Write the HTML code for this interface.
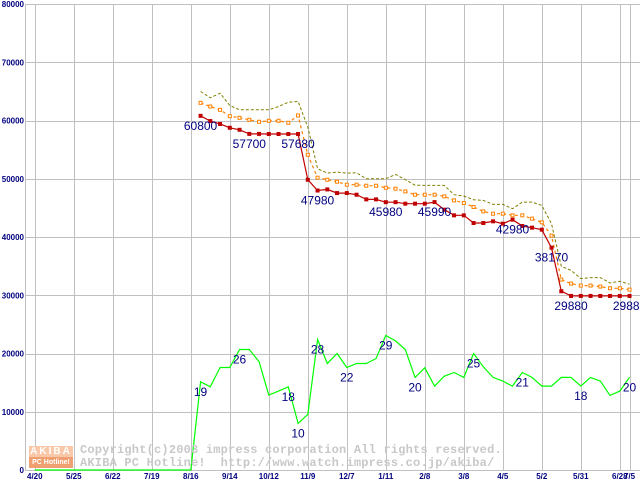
<!DOCTYPE html>
<html><head><meta charset="utf-8">
<style>
html,body{margin:0;padding:0;background:#fff;}
#wrap{position:relative;width:640px;height:480px;overflow:hidden;}
svg{position:absolute;left:0;top:0;}
.wm{position:absolute;font-family:"Liberation Mono",monospace;font-weight:bold;font-size:12px;color:#c8c8c8;white-space:pre;letter-spacing:0.2px;}
</style></head><body>
<div id="wrap">
<svg id="chart" width="640" height="480" xmlns="http://www.w3.org/2000/svg"></svg>
<div style="position:absolute;left:29px;top:446px;width:44px;height:22px;">
  <div style="height:11px;background:#f8c8a8;color:#fff;font:bold 10px 'Liberation Sans',sans-serif;text-align:center;line-height:11px;letter-spacing:2px;">AKIBA</div>
  <div style="height:11px;background:#f0a070;color:#fff;font:bold 7px 'Liberation Sans',sans-serif;text-align:center;line-height:11px;">PC Hotline!</div>
</div>
<div class="wm" style="left:80px;top:443px;">Copyright(c)2003 impress corporation All rights reserved.</div>
<div class="wm" style="left:80px;top:456px;">AKIBA PC Hotline!  http://www.watch.impress.co.jp/akiba/</div>
</div>
<script>
const xTickLabels=["4/20","5/25","6/22","7/19","8/16","9/14","10/12","11/9","12/7","1/11","2/8","3/8","4/5","5/2","5/31","6/28","7/5"];
const xTickWeeks=[0,4,8,12,16,20,24,28,32,36,40,44,48,52,56,60,61];
const yTicks=[0,10000,20000,30000,40000,50000,60000,70000,80000];
const startWeek=17;
const minPrice=[60800,59900,59400,58750,58400,57700,57700,57680,57680,57680,57680,49830,47980,48170,47540,47540,47260,46460,46460,45980,45980,45720,45720,45720,45990,44690,43720,43720,42400,42400,42690,42290,42980,41890,41600,41260,38170,30690,29880,29880,29880,29880,29880,29880,29880];
const avgPrice=[63030,62400,61830,60740,60460,60120,59780,59950,59950,59610,60860,54120,50180,49830,49490,48980,48980,48800,48800,48460,48290,47830,47260,47260,47260,46970,46290,45830,45150,44400,44000,44000,43720,43720,43150,42520,40230,32690,32000,31660,31660,31490,31200,31200,30970];
const maxPrice=[64970,63890,64690,62570,61830,61830,61830,61830,62400,63140,63260,58860,51720,50970,51150,50970,51030,50000,50000,50000,50740,49830,48900,48860,48860,48860,47260,47030,46400,46290,45600,45600,44860,46000,46000,45430,42290,34970,34290,32860,33030,33030,32110,32400,31890];
const shopLine=[0,0,0,0,0,0,0,0,0,0,0,0,0,0,0,0,0,15140,14290,17600,17600,20690,20690,18570,12860,13540,14290,8000,9540,22400,18290,20000,17600,18290,18290,19140,23090,22170,20690,15890,17540,14400,16110,16740,15890,20000,17710,15890,15260,14400,16740,15890,14400,14400,15890,15890,14400,15890,15260,12800,13540,15890];
const priceLabelIdx=[0,5,10,12,19,24,32,36,38,44];
const shopLabelIdx=[0,4,9,10,12,15,19,22,28,33,39,44];
const shopCounts=[19,26,18,10,28,22,29,20,25,21,18,20];

const NS="http://www.w3.org/2000/svg";
const svg=document.getElementById('chart');
const X=w=>34.8+w*9.75;
const Y=v=>470-v*(466/80000);
function el(tag,attrs,parent){const e=document.createElementNS(NS,tag);for(const k in attrs)e.setAttribute(k,attrs[k]);(parent||svg).appendChild(e);return e;}

const grid=el('g',{'shape-rendering':'crispEdges'});


yTicks.forEach(v=>{
  const l=el('line',{x1:25,x2:640,y1:Math.round(Y(v))+0.5,y2:Math.round(Y(v))+0.5,stroke:'#c0c0c0','stroke-width':1},grid);
  
  
  const t=el('text',{x:24,y:Y(v)+3,'text-anchor':'end','font-family':'Liberation Sans, sans-serif','font-size':8,'font-weight':'bold',fill:'#000080'});
  t.textContent=v;
  
  
});
el('line',{x1:25.5,x2:25.5,y1:4,y2:470,stroke:'#c0c0c0','stroke-width':1},grid);
xTickWeeks.forEach((w,i)=>{
  const l=el('line',{x1:Math.round(X(w))+0.5,x2:Math.round(X(w))+0.5,y1:4,y2:471,stroke:'#c0c0c0','stroke-width':1},grid);
  
  
  const t=el('text',{x:X(w),y:479,'text-anchor':'middle','font-family':'Liberation Sans, sans-serif','font-size':8,'font-weight':'bold',fill:'#000080'});
  t.textContent=xTickLabels[i];
  
  
});

function path(vals,off,attrs,name){
  const d=vals.map((v,i)=>(i?'L':'M')+X(i+off).toFixed(1)+','+Y(v).toFixed(1)).join('');
  const p=el('path',Object.assign({d:d,fill:'none'},attrs));
  
  
}
path(maxPrice,startWeek,{stroke:'#808000','stroke-width':1,'stroke-dasharray':'3,2'},'max-price-line');
path(avgPrice,startWeek,{stroke:'#ff8000','stroke-width':1.2,'stroke-dasharray':'3,3'},'avg-price-line');
avgPrice.forEach((v,i)=>{
  const r=el('rect',{x:X(i+startWeek)-1.5,y:Y(v)-1.5,width:3,height:3,fill:'#fff',stroke:'#ff8000','stroke-width':1});
  
  
});
path(minPrice,startWeek,{stroke:'#c00000','stroke-width':1.2},'min-price-line');
minPrice.forEach((v,i)=>{
  const r=el('rect',{x:X(i+startWeek)-2,y:Y(v)-2,width:4,height:4,fill:'#c00000'});
  
  
});
path(shopLine,0,{stroke:'#00ff00','stroke-width':1.2},'shop-count-line');

priceLabelIdx.forEach(i=>{
  const t=el('text',{x:X(i+startWeek),y:Y(minPrice[i])+14,'text-anchor':'middle','font-family':'Liberation Sans, sans-serif','font-size':12,fill:'#000080'});
  t.textContent=minPrice[i];
  
  
});
shopLabelIdx.forEach((i,k)=>{
  const t=el('text',{x:X(i+startWeek),y:Y(shopLine[i+startWeek])+14,'text-anchor':'middle','font-family':'Liberation Sans, sans-serif','font-size':12,fill:'#000080'});
  t.textContent=shopCounts[k];
  
  
});
</script>
</body></html>
